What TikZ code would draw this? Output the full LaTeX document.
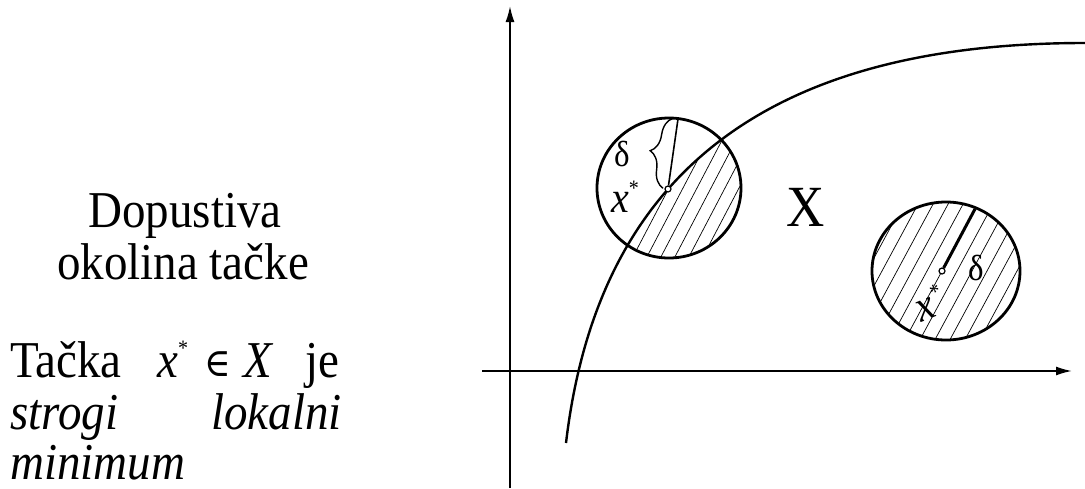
\documentclass[tikz,border=0pt]{standalone}
\usepackage{fontspec}
\setmainfont{Liberation Serif}
\newfontfamily\symfnt{DejaVu Serif}
\usetikzlibrary{decorations.pathreplacing,arrows.meta}
\newcommand{\xstar}[1]{\textit{x}\raisebox{#1}{\fontsize{20}{22}\selectfont\upshape*}}
\newcommand{\tall}[1]{\scalebox{1}[1.1]{#1}}
\begin{document}
\begin{tikzpicture}[x=1pt,y=-1pt,
  axis/.style={line width=1.8pt,-{Latex[length=16pt,width=9pt]}},
  curve/.style={line width=2.4pt},
  ball/.style={line width=2.8pt},
  hatch/.style={line width=0.7pt},
  pt/.style={circle,draw,line width=1.2pt,fill=white,inner sep=0pt,minimum size=6pt},
  txt/.style={inner sep=0pt,font=\fontsize{47}{52}\selectfont},
  itxt/.style={inner sep=0pt,font=\fontsize{47}{52}\selectfont\itshape},
  dlbl/.style={inner sep=0pt,font=\fontsize{33}{36}\selectfont},
  xlbl/.style={inner sep=0pt,font=\fontsize{40}{44}\selectfont}]
\useasboundingbox (0,0) rectangle (1085,488);
% axes
\coordinate (yb) at (510,488);
\coordinate (yt) at (510,6);
\coordinate (xl) at (482,371);
\coordinate (xr) at (1072,371);
\draw[axis] (yb) -- (yt);
\draw[axis] (xl) -- (xr);
% curve
\def\curvepath{(566,443) .. controls (597,180) and (760,43) .. (1085,43)}
% hatching circle 1 (region below curve)
\begin{scope}
  \clip (669,188) ellipse [x radius=72, y radius=70];
  \clip \curvepath -- (1085,488) -- (566,488) -- cycle;
  \foreach \i in {-12,...,12}
    \draw[hatch] (669+\i*14-110,188+210) -- ++(220,-420);
\end{scope}
% hatching circle 2
\begin{scope}
  \clip (946,271) ellipse [x radius=74, y radius=69];
  \foreach \i in {-12,...,12}
    \draw[hatch] (942+\i*15-110,271+204) -- ++(220,-408);
\end{scope}
\draw[curve] \curvepath;
% circles
\draw[ball] (669,188) ellipse [x radius=72, y radius=70];
\draw[ball] (946,271) ellipse [x radius=74, y radius=69];
% radius lines
\coordinate (r1) at (678,119);
\coordinate (r2) at (975,209);
\node[pt] (p1) at (668,189) {};
\node[pt] (p2) at (942,271) {};
\draw[line width=1.6pt] (p1) -- (r1);
\draw[line width=3pt] (p2) -- (r2);
\draw[line width=1.4pt,decorate,decoration={brace,amplitude=18pt,raise=5pt}] (p1.center) -- (r1);
% labels
\node[dlbl] (d1) at (622,154) {\tall{δ}};
\node[xlbl,anchor=base west] (x1) at (611,212) {\tall{\xstar{15pt}}};
\node[dlbl] (d2) at (976,268) {\tall{δ}};
\node[xlbl,rotate=22,anchor=base west] (x2) at (921,323) {\tall{\textit{x}\kern2pt\raisebox{15pt}{\fontsize{20}{22}\selectfont\upshape*}}};
\node[inner sep=0pt,font=\fontsize{53}{58}\selectfont] (X) at (806,207) {\tall{X}};
% left text
\node[txt,anchor=base] (t1) at (185,227) {\tall{Dopustiva}};
\node[txt,anchor=base] (t2) at (183,279) {\tall{okolina tačke}};
\node[txt,anchor=base west] (t3) at (10,377) {\tall{Tačka}};
\node[txt,anchor=base west] (t4) at (157,377) {\tall{\xstar{20pt}}};
\node[inner sep=0pt,anchor=base west,font=\fontsize{36}{40}\symfnt] (t4b) at (204,376) {\tall{∈}};
\node[itxt,anchor=base west] (t4c) at (243,377) {\tall{X}};
\node[txt,anchor=base east] (t5) at (340,377) {\tall{je}};
\node[itxt,anchor=base west] (t6) at (10,429) {\tall{strogi}};
\node[itxt,anchor=base east] (t7) at (342,429) {\tall{lokalni}};
\node[itxt,anchor=base west] (t8) at (10,479) {\tall{minimum}};
\end{tikzpicture}
\end{document}
